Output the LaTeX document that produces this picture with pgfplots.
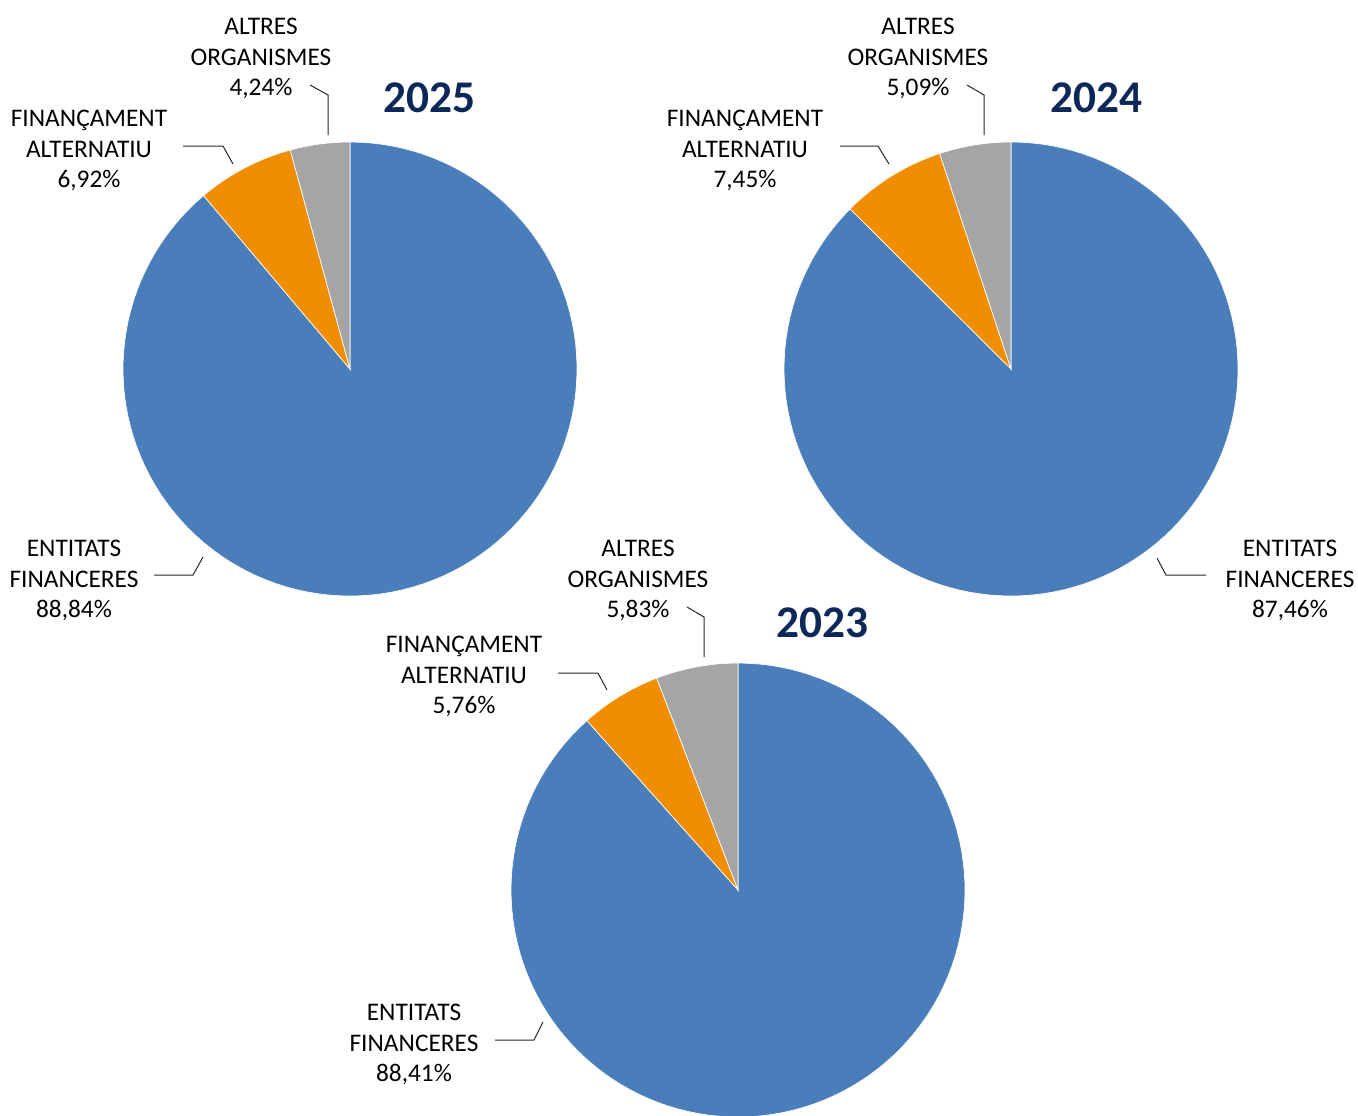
\documentclass[border=0pt]{standalone}
\usepackage{pgfplots}
\pgfplotsset{compat=1.18}
\usepackage{fontspec}
\setmainfont{Carlito}

\definecolor{entblue}{RGB}{74,126,187}
\definecolor{finorange}{RGB}{240,141,0}
\definecolor{altgray}{RGB}{165,165,165}
\definecolor{titlenavy}{RGB}{12,40,88}

% percentages: entitats financeres, finançament alternatiu, altres organismes
\def\EntA{88.84} \def\FinA{6.92} \def\AltA{4.24} % 2025
\def\EntB{87.46} \def\FinB{7.45} \def\AltB{5.09} % 2024
\def\EntC{88.41} \def\FinC{5.76} \def\AltC{5.83} % 2023

% one wedge: centre x, centre y, start angle, end angle, colour (radius 227 px)
\newcommand{\slice}[5]{%
  \addplot[fill=#5, draw=white, line width=0.5pt, domain=#4:#3, samples=120, variable=\t]
    ({#1+227*cos(t)},{#2-227*sin(t)}) -- (axis cs:#1,#2) -- cycle;
}
% whole pie from the three shares, clockwise from 12 o'clock
\newcommand{\pie}[5]{%
  \slice{#1}{#2}{90}{90-3.6*#3}{entblue}
  \slice{#1}{#2}{90-3.6*#3}{90-3.6*(#3+#4)}{finorange}
  \slice{#1}{#2}{90-3.6*(#3+#4)}{-270}{altgray}
}

\tikzset{lab/.style={align=center, font=\fontsize{19}{23}\selectfont, text=black, inner sep=0pt},
  yr/.style={font=\fontsize{34}{40}\selectfont\bfseries, text=titlenavy, inner sep=0pt}}

\begin{document}
\begin{tikzpicture}
\begin{axis}[
  width=1018.5pt, height=836.25pt, scale only axis,
  xmin=0, xmax=1358, ymin=0, ymax=1115, y dir=reverse,
  axis lines=none, ticks=none,
  axis background/.style={fill=white},
  ]
  \pie{350}{369}{\EntA}{\FinA}{\AltA}
  \pie{1011}{369}{\EntB}{\FinB}{\AltB}
  \pie{738}{890}{\EntC}{\FinC}{\AltC}

  % leader lines
  \addplot[black!85, line width=0.75pt, no marks] coordinates {(310,85) (328,95) (328,135)};
  \addplot[black!85, line width=0.75pt, no marks] coordinates {(183,146) (223,146) (233,164)};
  \addplot[black!85, line width=0.75pt, no marks] coordinates {(154,575) (193,575) (203,557)};
  \addplot[black!85, line width=0.75pt, no marks] coordinates {(967,85) (984,95) (984,135)};
  \addplot[black!85, line width=0.75pt, no marks] coordinates {(840,146) (878,146) (889,164)};
  \addplot[black!85, line width=0.75pt, no marks] coordinates {(1157,558) (1166,575) (1206,575)};
  \addplot[black!85, line width=0.75pt, no marks] coordinates {(687,607) (704,617) (704,657)};
  \addplot[black!85, line width=0.75pt, no marks] coordinates {(558,673) (598,673) (607,690)};
  \addplot[black!85, line width=0.75pt, no marks] coordinates {(495,1040) (534,1040) (543,1022)};

  % labels
  \node[lab] at (axis cs:261,58.5) {ALTRES\\ORGANISMES\\4,24\%};
  \node[lab] at (axis cs:89,150.5) {FINANÇAMENT\\ALTERNATIU\\6,92\%};
  \node[lab] at (axis cs:74,580.5) {ENTITATS\\FINANCERES\\88,84\%};
  \node[yr] at (axis cs:429,98) {2025};

  \node[lab] at (axis cs:918,58.5) {ALTRES\\ORGANISMES\\5,09\%};
  \node[lab] at (axis cs:745,150.5) {FINANÇAMENT\\ALTERNATIU\\7,45\%};
  \node[lab] at (axis cs:1290,580.5) {ENTITATS\\FINANCERES\\87,46\%};
  \node[yr] at (axis cs:1096,98) {2024};

  \node[lab] at (axis cs:638,580.5) {ALTRES\\ORGANISMES\\5,83\%};
  \node[lab] at (axis cs:464,676.5) {FINANÇAMENT\\ALTERNATIU\\5,76\%};
  \node[lab] at (axis cs:414,1044.5) {ENTITATS\\FINANCERES\\88,41\%};
  \node[yr] at (axis cs:822,623) {2023};
\end{axis}
\end{tikzpicture}
\end{document}
